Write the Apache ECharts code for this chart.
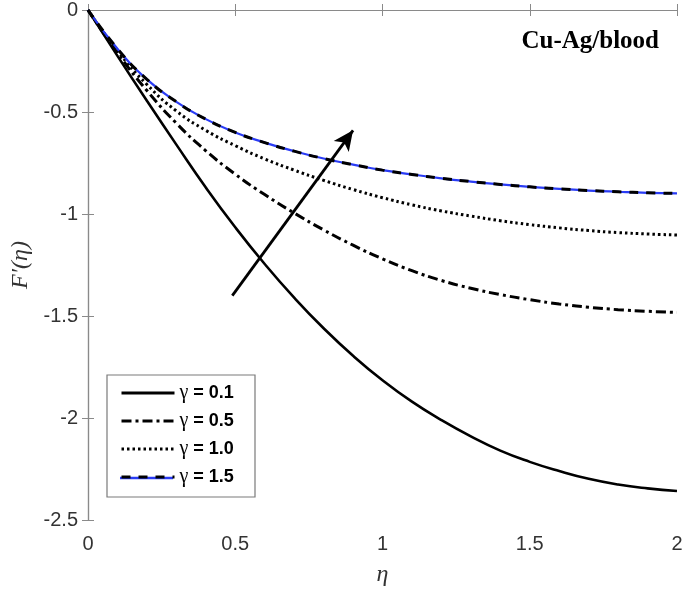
<!DOCTYPE html>
<html>
<head>
<meta charset="utf-8">
<title>Cu-Ag/blood</title>
<script src="https://cdn.jsdelivr.net/npm/echarts@6/dist/echarts.min.js"></script>
<style>
  html, body { margin: 0; padding: 0; background: #fff; }
  #chart { width: 685px; height: 592px; }
</style>
</head>
<body>
<div id="chart"></div>
<script>
// eta grid (x axis)
var eta = [0, 0.1, 0.2, 0.3, 0.4, 0.5, 0.6, 0.7, 0.8, 0.9, 1.0,
           1.1, 1.2, 1.3, 1.4, 1.5, 1.6, 1.7, 1.8, 1.9, 2.0];

// F'(eta)
var gamma01 = [0, -0.225, -0.445, -0.66, -0.87, -1.065, -1.245, -1.41, -1.56, -1.695, -1.815,
               -1.92, -2.01, -2.09, -2.16, -2.215, -2.26, -2.298, -2.326, -2.345, -2.358];
var gamma05 = [0, -0.21, -0.395, -0.555, -0.69, -0.805, -0.905, -0.995, -1.078, -1.153, -1.22,
               -1.278, -1.326, -1.364, -1.395, -1.42, -1.441, -1.457, -1.469, -1.477, -1.482];
var gamma10 = [0, -0.2, -0.365, -0.495, -0.59, -0.665, -0.73, -0.785, -0.835, -0.88, -0.92,
               -0.955, -0.985, -1.01, -1.033, -1.052, -1.068, -1.081, -1.091, -1.098, -1.103];
var gamma15 = [0, -0.19, -0.34, -0.45, -0.535, -0.6, -0.65, -0.692, -0.728, -0.758, -0.785,
               -0.806, -0.825, -0.841, -0.855, -0.867, -0.877, -0.885, -0.891, -0.896, -0.899];

var seriesNames = ["γ = 0.1", "γ = 0.5", "γ = 1.0", "γ = 1.5"];

// arrow (increasing gamma), in data coordinates
var arrowFrom = [0.49, -1.40];
var arrowTo = [0.90, -0.59];

function pairs(ys) {
  return eta.map(function (x, i) { return [x, ys[i]]; });
}

var tickFont = { fontFamily: "Liberation Sans, Arial, sans-serif", fontSize: 20, color: "#333" };
var boxLine = { show: true, lineStyle: { color: "#8a8a8a", width: 1.2 } };
var boxTick = { show: true, inside: true, length: 6, lineStyle: { color: "#8a8a8a", width: 1 } };

var chart = echarts.init(document.getElementById("chart"));

var option = {
  animation: false,
  backgroundColor: "#fff",
  title: {
    text: "Cu-Ag/blood",
    right: 26,
    top: 29,
    padding: 0,
    textStyle: { fontFamily: "Liberation Serif, Times New Roman, serif", fontWeight: "bold", fontSize: 25, color: "#000" }
  },
  grid: { left: 88, top: 10, right: 8, bottom: 72, outerBoundsMode: "none", containLabel: false },
  legend: {
    orient: "vertical",
    left: 120,
    top: 383,
    padding: 0,
    itemWidth: 53,
    itemHeight: 14,
    itemGap: 8,
    z: 10,
    data: seriesNames,
    lineStyle: { width: 3 },
    itemStyle: { opacity: 0 },
    formatter: function (name) { return name.replace("γ", "{g|γ}"); },
    textStyle: {
      fontFamily: "Liberation Sans, Arial, sans-serif",
      fontWeight: "bold",
      fontSize: 18,
      lineHeight: 20,
      color: "#000",
      rich: {
        g: { fontFamily: "Liberation Serif, Times New Roman, serif", fontWeight: "normal", fontSize: 20, lineHeight: 20, color: "#000" }
      }
    }
  },
  xAxis: [
    {
      type: "value", min: 0, max: 2, interval: 0.5, position: "bottom",
      name: "η", nameLocation: "middle", nameGap: 43,
      nameTextStyle: { fontFamily: "Liberation Serif, Times New Roman, serif", fontStyle: "italic", fontSize: 24, color: "#333" },
      axisLine: boxLine, axisTick: boxTick, splitLine: { show: false },
      axisLabel: Object.assign({ margin: 14 }, tickFont)
    },
    {
      type: "value", min: 0, max: 2, interval: 0.5, position: "top",
      axisLine: boxLine, axisTick: boxTick, splitLine: { show: false },
      axisLabel: { show: false }
    }
  ],
  yAxis: [
    {
      type: "value", min: -2.5, max: 0, interval: 0.5, position: "left",
      name: "F′(η)", nameLocation: "middle", nameGap: 54,
      nameTextStyle: { fontFamily: "Liberation Serif, Times New Roman, serif", fontStyle: "italic", fontSize: 24, color: "#333" },
      axisLine: boxLine, axisTick: boxTick, splitLine: { show: false },
      axisLabel: Object.assign({ margin: 10 }, tickFont)
    },
    {
      type: "value", min: -2.5, max: 0, interval: 0.5, position: "right",
      axisLine: boxLine, axisTick: boxTick, splitLine: { show: false },
      axisLabel: { show: false }
    }
  ],
  graphic: [
    {
      type: "rect", z: 3,
      shape: { x: 107, y: 375, width: 148, height: 122 },
      style: { fill: "#fff", stroke: "#7a7a7a", lineWidth: 1.2 }
    },
    {
      type: "line", z: 4,
      shape: { x1: 120, y1: 478, x2: 173, y2: 478 },
      style: { stroke: "#2a3cf5", lineWidth: 2.5 }
    }
  ],
  series: [
    {
      name: seriesNames[0], type: "line", data: pairs(gamma01), smooth: true, symbol: "none",
      lineStyle: { color: "#000", width: 2.6, type: "solid" },
      itemStyle: { color: "#000" },
      markLine: {
        silent: true,
        symbol: ["none", "arrow"],
        symbolSize: [14, 20],
        label: { show: false },
        lineStyle: { color: "#000", width: 2.8, type: "solid" },
        data: [[{ coord: arrowFrom }, { coord: arrowTo }]]
      }
    },
    {
      name: seriesNames[1], type: "line", data: pairs(gamma05), smooth: true, symbol: "none",
      lineStyle: { color: "#000", width: 3, type: [10, 4, 3, 4] },
      itemStyle: { color: "#000" }
    },
    {
      name: seriesNames[2], type: "line", data: pairs(gamma10), smooth: true, symbol: "none",
      lineStyle: { color: "#000", width: 3, type: [2.5, 3] },
      itemStyle: { color: "#000" }
    },
    {
      name: "blue under 1.5", type: "line", data: pairs(gamma15), smooth: true, symbol: "none",
      lineStyle: { color: "#2a3cf5", width: 2.2, type: "solid" },
      itemStyle: { color: "#2a3cf5" }
    },
    {
      name: seriesNames[3], type: "line", data: pairs(gamma15), smooth: true, symbol: "none",
      lineStyle: { color: "#000", width: 3, type: [9, 8] },
      itemStyle: { color: "#000" }
    }
  ]
};

chart.setOption(option);
</script>
</body>
</html>
